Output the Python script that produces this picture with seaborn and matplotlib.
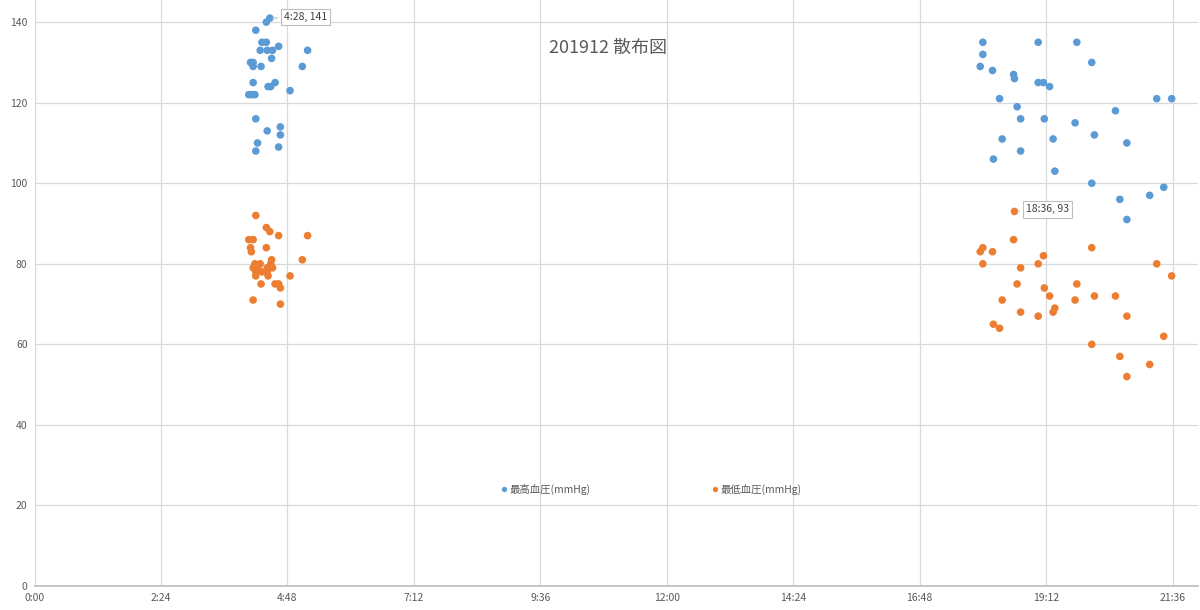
import pandas as pd
import seaborn as sns
import matplotlib.pyplot as plt

# 2019年12月 血圧記録 (時刻, 最高血圧, 最低血圧)
times = ["4:04", "4:06", "4:07", "4:09", "4:09", "4:09", "4:11", "4:12", "4:12", "4:12",
         "4:14", "4:17", "4:18", "4:19", "4:24", "4:24", "4:25", "4:25", "4:26", "4:28",
         "4:29", "4:30", "4:31", "4:34", "4:38", "4:38", "4:40", "4:40", "4:51", "5:05",
         "5:11",
         "17:57", "18:00", "18:00", "18:11", "18:12", "18:19", "18:22", "18:35", "18:36", "18:39",
         "18:43", "18:43", "19:03", "19:03", "19:09", "19:10", "19:16", "19:20", "19:22", "19:45",
         "19:47", "20:04", "20:04", "20:07", "20:31", "20:36", "20:44", "20:44", "21:10", "21:18",
         "21:26", "21:35"]
high = [122, 130, 122, 130, 129, 125, 122, 138, 116, 108,
        110, 133, 129, 135, 140, 135, 133, 113, 124, 141,
        124, 131, 133, 125, 134, 109, 114, 112, 123, 129,
        133,
        129, 135, 132, 128, 106, 121, 111, 127, 126, 119,
        116, 108, 135, 125, 125, 116, 124, 111, 103, 115,
        135, 130, 100, 112, 118, 96, 110, 91, 97, 121,
        99, 121]
low = [86, 84, 83, 86, 71, 79, 80, 92, 78, 77,
       79, 80, 75, 78, 89, 84, 79, 78, 77, 88,
       80, 81, 79, 75, 87, 75, 74, 70, 77, 81,
       87,
       83, 84, 80, 83, 65, 64, 71, 86, 93, 75,
       79, 68, 80, 67, 82, 74, 72, 68, 69, 71,
       75, 84, 60, 72, 72, 57, 67, 52, 55, 80,
       62, 77]

series_names = ["最高血圧(mmHg)", "最低血圧(mmHg)"]
colors = ["#5B9BD5", "#ED7D31"]
x_ticks = list(range(0, 1297, 144))
x_labels = ["0:00", "2:24", "4:48", "7:12", "9:36", "12:00", "14:24", "16:48", "19:12", "21:36"]
y_ticks = list(range(0, 141, 20))

def to_min(t):
    h, m = t.split(":")
    return int(h) * 60 + int(m)

minutes = [to_min(t) for t in times]
df = pd.DataFrame({"時刻": minutes * 2,
                   "血圧": high + low,
                   "系列": [series_names[0]] * len(high) + [series_names[1]] * len(low)})

sns.set_theme(style="white")
plt.rcParams["font.family"] = ["Noto Sans CJK JP", "DejaVu Sans"]

fig = plt.figure(figsize=(12, 6.1), dpi=100)
ax = fig.add_axes([34.5 / 1200, 24 / 610, (1198 - 34.5) / 1200, 586 / 610])

sns.scatterplot(data=df, x="時刻", y="血圧", hue="系列", palette=colors,
                s=30, edgecolor="none", ax=ax)

ax.set_xlim(0, 1325)
ax.set_ylim(0, 145.5)
ax.set_xticks(x_ticks)
ax.set_xticklabels(x_labels)
ax.set_yticks(y_ticks)
ax.set_xlabel("")
ax.set_ylabel("")
ax.grid(True, color="#d9d9d9", linewidth=0.9)
ax.set_axisbelow(True)
for s in ["top", "right"]:
    ax.spines[s].set_visible(False)
ax.spines["left"].set_visible(False)
ax.spines["bottom"].set_color("#bfbfbf")
ax.tick_params(axis="both", labelsize=7.5, colors="#595959", length=0, pad=5)

fig.text(608 / 1200, 1 - 48 / 610, "201912 散布図", ha="center", va="center",
         fontsize=13, color="#595959")

ax.legend(loc="center", bbox_to_anchor=(0.529, 24 / 145.5), ncol=2, frameon=False,
          fontsize=7.5, markerscale=0.7, handletextpad=0.0, columnspacing=11.5,
          handlelength=1.0, labelcolor="#595959")

box = dict(boxstyle="square,pad=0.3", fc="white", ec="#bfbfbf", lw=0.8)
ax.annotate("4:28, 141", xy=(268, 141), xytext=(284, 141.2),
            fontsize=7.5, color="#404040", va="center", bbox=box,
            arrowprops=dict(arrowstyle="-", color="#bfbfbf", lw=0.8))
ax.annotate("18:36, 93", xy=(1116, 93), xytext=(1129, 93.5),
            fontsize=7.5, color="#404040", va="center", bbox=box,
            arrowprops=dict(arrowstyle="-", color="#bfbfbf", lw=0.8))

fig.savefig("out.png", dpi=100)
